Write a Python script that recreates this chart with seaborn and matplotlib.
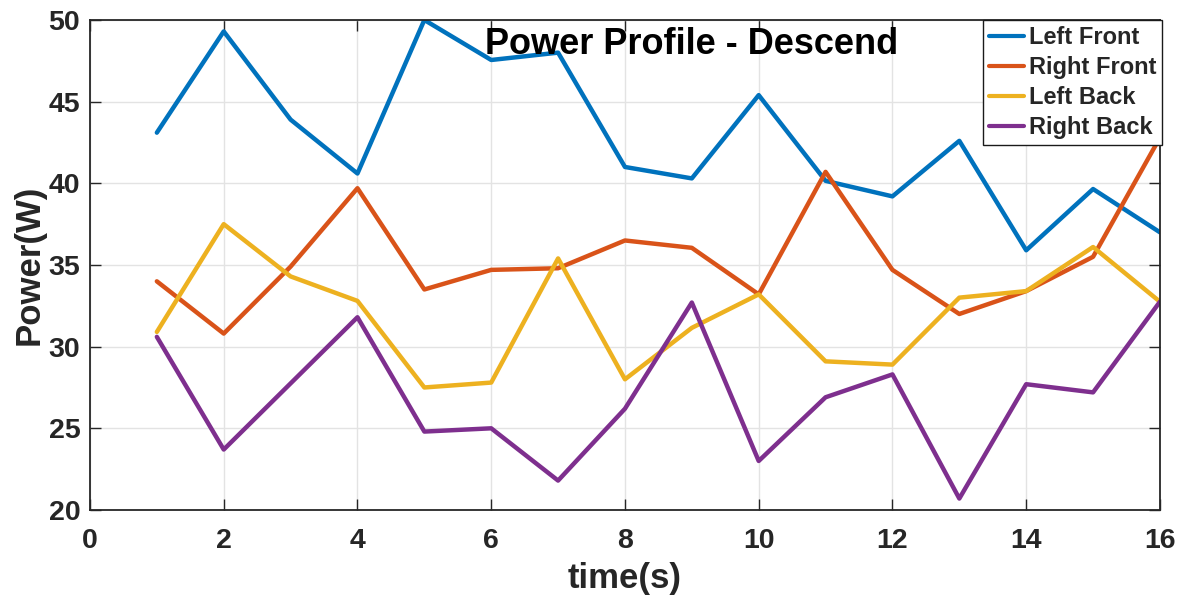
import numpy as np
import pandas as pd
import matplotlib
matplotlib.use("Agg")
import matplotlib.pyplot as plt
import seaborn as sns

# Power readings per wheel during descent
time_s = [1, 2, 3, 4, 5, 6, 7, 8, 9, 10, 11, 12, 13, 14, 15, 16]
left_front = [43.1, 49.3, 43.9, 40.6, 50.0, 47.55, 48.0, 41.0, 40.3, 45.4, 40.15, 39.2, 42.6, 35.9, 39.65, 37.0]
right_front = [34.0, 30.8, 34.9, 39.7, 33.5, 34.7, 34.8, 36.5, 36.05, 33.2, 40.7, 34.7, 32.0, 33.4, 35.5, 42.8]
left_back = [30.9, 37.5, 34.3, 32.8, 27.5, 27.8, 35.4, 28.0, 31.15, 33.2, 29.1, 28.9, 33.0, 33.4, 36.1, 32.75]
right_back = [30.6, 23.7, 27.75, 31.8, 24.8, 25.0, 21.8, 26.2, 32.7, 23.0, 26.9, 28.3, 20.7, 27.7, 27.2, 32.75]

series_names = ["Left Front", "Right Front", "Left Back", "Right Back"]
series_colors = ["#0072BD", "#D95319", "#EDB120", "#7E2F8E"]
x_ticks = [0, 2, 4, 6, 8, 10, 12, 14, 16]
y_ticks = [20, 25, 30, 35, 40, 45, 50]

frames = []
for name, vals in zip(series_names, [left_front, right_front, left_back, right_back]):
    frames.append(pd.DataFrame({"time": time_s, "power": vals, "wheel": name}))
df = pd.concat(frames, ignore_index=True)

sns.set_style("whitegrid")
plt.rcParams["font.family"] = ["Liberation Sans", "DejaVu Sans"]
plt.rcParams["font.weight"] = "bold"

fig = plt.figure(figsize=(11.87, 5.98), dpi=100)
ax = fig.add_axes([0.0758, 0.1472, 0.9014, 0.8194])

sns.lineplot(data=df, x="time", y="power", hue="wheel", hue_order=series_names,
             palette=series_colors, linewidth=3.2, ax=ax, legend=True)

ax.set_xlim(0, 16)
ax.set_ylim(20, 50)
ax.set_xticks(x_ticks)
ax.set_yticks(y_ticks)

dark = "#262626"
ax.grid(True, color="#e3e3e3", linewidth=1.0)
for side in ["left", "right", "top", "bottom"]:
    ax.spines[side].set_visible(True)
    ax.spines[side].set_color(dark)
    ax.spines[side].set_linewidth(1.3)

ax.tick_params(axis="both", which="major", direction="in", length=8, width=1.0,
               color=dark, labelcolor=dark, labelsize=20.5, top=True, right=True,
               bottom=True, left=True)
ax.tick_params(axis="x", pad=13)
ax.tick_params(axis="y", pad=7)
for lbl in ax.get_xticklabels() + ax.get_yticklabels():
    lbl.set_fontweight("bold")

ax.set_xlabel("time(s)", fontsize=25, fontweight="bold", color=dark, labelpad=6)
ax.set_ylabel("Power(W)", fontsize=25, fontweight="bold", color=dark, labelpad=2)

ax.text(0.562, 0.985, "Power Profile - Descend", transform=ax.transAxes,
        ha="center", va="top", fontsize=26, fontweight="bold", color="black")

leg = ax.legend(loc="upper right", bbox_to_anchor=(1.002, 1.0), frameon=True,
                fancybox=False, framealpha=1.0, edgecolor="#1a1a1a",
                prop={"size": 17, "weight": "bold"}, handlelength=1.5,
                handletextpad=0.2, labelspacing=0.3, borderpad=0.25,
                borderaxespad=0.0)
leg.get_frame().set_linewidth(1.0)
for line in leg.get_lines():
    line.set_linewidth(3.0)

fig.savefig("out.png", dpi=100)
